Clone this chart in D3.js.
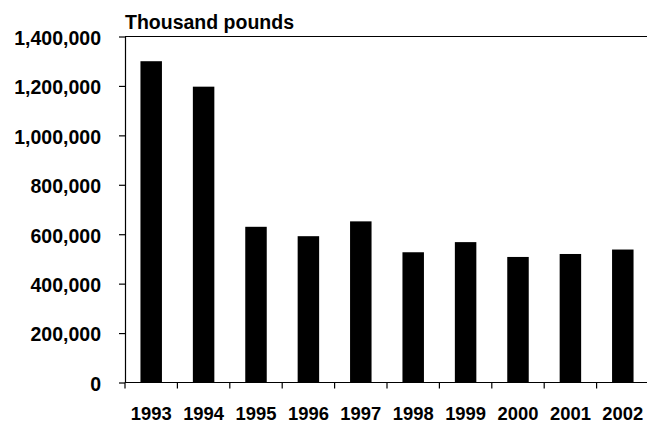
<!DOCTYPE html>
<html>
<head>
<meta charset="utf-8">
<script src="https://cdn.jsdelivr.net/npm/d3@7"></script>
<style>
  body { margin: 0; background: #fff; overflow: hidden; }
  svg { display: block; }
  svg text { font-family: "Liberation Sans", Arial, sans-serif; font-weight: bold; fill: #000; }
</style>
</head>
<body>
<svg class="bar-chart"></svg>
<script>
// Data
var years = ["1993", "1994", "1995", "1996", "1997", "1998", "1999", "2000", "2001", "2002"];
var pounds = [1300000, 1197000, 630000, 592000, 652000, 527000, 568000, 508000, 520000, 538000];
var yTicks = [0, 200000, 400000, 600000, 800000, 1000000, 1200000, 1400000];
var unitLabel = "Thousand pounds";

var width = 647, height = 423;
var plotLeft = 125, plotRight = 649, plotTop = 36.5, plotBottom = 382.5;

var svg = d3.select(".bar-chart")
  .attr("width", width)
  .attr("height", height);

var xScale = d3.scaleBand().domain(years).range([plotLeft, plotRight]);
var barScale = d3.scaleBand().domain(years).range([plotLeft, plotRight])
  .paddingInner(0.59).paddingOuter(0.295);
var yScale = d3.scaleLinear().domain([0, 1400000]).range([plotBottom, plotTop]);

var fmt = d3.format(",");

// Top frame line
svg.append("line")
  .attr("x1", plotLeft).attr("x2", width)
  .attr("y1", yScale(1400000)).attr("y2", yScale(1400000))
  .attr("stroke", "#000").attr("stroke-width", 1.2);

// Bars
svg.selectAll(".data-bar").data(years)
  .enter()
  .append("rect")
  .classed("data-bar", true)
  .attr("x", d => barScale(d))
  .attr("y", (d, i) => yScale(pounds[i]))
  .attr("width", barScale.bandwidth())
  .attr("height", (d, i) => yScale(0) - yScale(pounds[i]))
  .style("fill", "#000");

// y axis
var yAxis = svg.append("g")
  .classed("y-axis", true)
  .attr("transform", "translate(" + plotLeft + ",0)")
  .call(d3.axisLeft(yScale).tickValues(yTicks).tickFormat(fmt).tickSize(6).tickSizeOuter(0).tickPadding(18));
yAxis.select(".domain").attr("stroke", "#000").attr("stroke-width", 1.2);
yAxis.selectAll(".tick line").attr("stroke", "#000").attr("stroke-width", 1.2);
yAxis.selectAll("text").style("font-size", "19.5px").attr("dy", "0.4em");

// x axis
var xAxis = svg.append("g")
  .classed("x-axis", true)
  .attr("transform", "translate(0," + plotBottom + ")")
  .call(d3.axisBottom(xScale).tickSize(0).tickSizeOuter(0).tickPadding(24));
xAxis.select(".domain").remove();
xAxis.append("line")
  .attr("x1", plotLeft).attr("x2", width)
  .attr("stroke", "#000").attr("stroke-width", 1.2);
// ticks at band boundaries
xAxis.selectAll(".band-tick").data(years)
  .enter()
  .append("line")
  .classed("band-tick", true)
  .attr("x1", d => xScale(d)).attr("x2", d => xScale(d))
  .attr("y1", 0).attr("y2", 6)
  .attr("stroke", "#000").attr("stroke-width", 1.2);
xAxis.selectAll(".tick text").style("font-size", "18.4px");

// Unit label
svg.append("text")
  .attr("x", plotLeft)
  .attr("y", 28.5)
  .style("font-size", "19.5px")
  .text(unitLabel);
</script>
</body>
</html>
